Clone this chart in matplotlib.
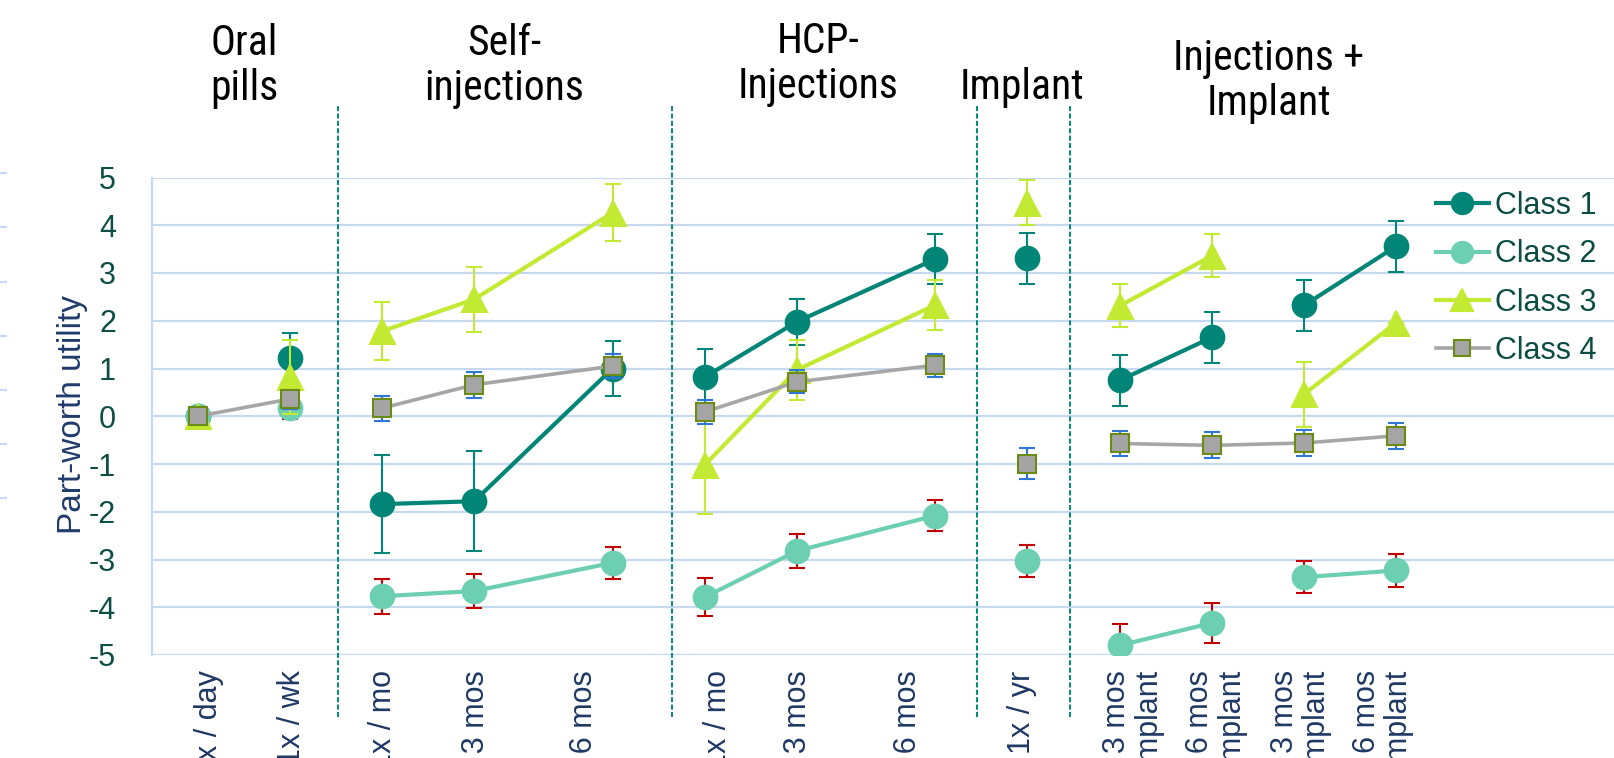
import numpy as np
import matplotlib.pyplot as plt
from matplotlib.lines import Line2D
from matplotlib import font_manager as fm

plt.rcParams['font.family'] = ['Liberation Sans', 'DejaVu Sans']
plt.rcParams['axes.unicode_minus'] = False

# category axis
categories = ['1x / day', '1x / wk',
              '1x / mo', '1x / 3 mos', '1x / 6 mos',
              '1x / mo', '1x / 3 mos', '1x / 6 mos',
              '1x / yr',
              'Self 3 mos\n+ Implant', 'Self 6 mos\n+ Implant',
              'HCP 3 mos\n+ Implant', 'HCP 6 mos\n+ Implant']
cat_pos = [0, 1, 2, 3, 4.5, 5.5, 6.5, 8, 9, 10, 11, 12, 13]
label_pos = [0.12, 1.02, 2.01, 3.02, 4.19, 5.64, 6.51, 7.70, 8.94, 10.15, 11.05, 11.97, 12.86]

groups = ['Oral\npills', 'Self-\ninjections', 'HCP-\nInjections', 'Implant', 'Injections +\nImplant']

class1 = [0, 1.22, -1.84, -1.78, 1.00, 0.82, 1.98, 3.29, 3.31, 0.75, 1.65, 2.32, 3.56]
class1_err = [0, 0.52, 1.02, 1.05, 0.58, 0.58, 0.48, 0.53, 0.53, 0.54, 0.54, 0.54, 0.53]
class2 = [0, 0.17, -3.77, -3.66, -3.07, -3.79, -2.82, -2.08, -3.03, -4.80, -4.33, -3.37, -3.23]
class2_err = [0, 0.23, 0.37, 0.35, 0.34, 0.40, 0.36, 0.33, 0.33, 0.45, 0.42, 0.34, 0.35]
class3 = [0, 0.82, 1.78, 2.45, 4.26, -1.02, 0.97, 2.33, 4.47, 2.31, 3.36, 0.46, 1.96]
class3_err = [0, 0.77, 0.61, 0.68, 0.60, 1.03, 0.63, 0.52, 0.47, 0.45, 0.45, 0.68, 0.0]
class4 = [0, 0.36, 0.17, 0.66, 1.05, 0.09, 0.72, 1.07, -0.99, -0.57, -0.61, -0.56, -0.41]
class4_err = [0, 0.20, 0.26, 0.27, 0.25, 0.25, 0.24, 0.24, 0.33, 0.27, 0.27, 0.27, 0.27]

# which points are joined by a line
runs_123 = [[2, 3, 4], [5, 6, 7], [9, 10], [11, 12]]
runs_4 = [[0, 1], [2, 3, 4], [5, 6, 7], [9, 10, 11, 12]]

series = [
    ('Class 1', class1, class1_err, runs_123, dict(color='#008577', marker='o', ms=17, mfc='#008577', mec='#008577', ecol='#008577', lw=3.0)),
    ('Class 2', class2, class2_err, runs_123, dict(color='#6ccfb1', marker='o', ms=17, mfc='#6ccfb1', mec='#6ccfb1', ecol='#c00000', lw=3.0)),
    ('Class 3', class3, class3_err, runs_123, dict(color='#c2ea33', marker='^', ms=18, mfc='#c2ea33', mec='#c2ea33', ecol='#c2ea33', lw=3.0)),
    ('Class 4', class4, class4_err, runs_4, dict(color='#a6a6a6', marker='s', ms=13.5, mfc='#a5a5a5', mec='#6b8c14', ecol='#2f77d6', lw=2.6)),
]


def has_font(name):
    try:
        fm.findfont(fm.FontProperties(family=name), fallback_to_default=False)
        return True
    except ValueError:
        return False


head_family, head_size = 'Liberation Sans', 27
for cand in ['Liberation Sans Narrow', 'Arial Narrow', 'Roboto Condensed']:
    if has_font(cand):
        head_family, head_size = cand, 30
        break

fig = plt.figure(figsize=(16.14, 7.58), dpi=100)
ax = fig.add_axes([152/1614, 103/758, 1 - 152/1614, 477.5/758])

x = np.array(cat_pos, dtype=float)
handles = []
for i, (name, vals, errs, runs, st) in enumerate(series):
    y = np.array(vals, dtype=float)
    e = np.array(errs, dtype=float)
    for r in runs:
        ax.plot(x[r], y[r], color=st['color'], lw=st['lw'], zorder=3 + i, solid_capstyle='round')
    ax.errorbar(x, y, yerr=e, fmt=st['marker'], ms=st['ms'], mfc=st['mfc'], mec=st['mec'],
                mew=1.5, ecolor=st['ecol'], elinewidth=1.5, capsize=6, capthick=1.5,
                linestyle='none', zorder=3 + i)
    handles.append(Line2D([], [], color=st['color'], lw=st['lw'], marker=st['marker'],
                          ms=st['ms'] * 0.9, mfc=st['mfc'], mec=st['mec'], mew=1.5))

ax.set_xlim(-0.495, 15.363)
ax.set_ylim(-5, 5)
ax.set_yticks(range(-5, 6))
ax.yaxis.grid(True, color='#c6d9f0', lw=1.6)
ax.set_axisbelow(True)
for s in ['top', 'right', 'bottom']:
    ax.spines[s].set_visible(False)
ax.spines['left'].set_color('#c6d9f0')
ax.spines['left'].set_linewidth(1.6)
ax.tick_params(axis='y', length=0, pad=26, labelsize=22, labelcolor='#0d4e45')
ax.tick_params(axis='x', length=0, pad=11)
ax.set_xticks(label_pos)
ax.set_xticklabels(categories, rotation=90, va='top', ha='center', multialignment='right',
                   fontsize=22, color='#1f3864', linespacing=1.1)

# dashed separators between product groups
seps = [1.52, 5.15, 8.45, 9.46]
ax.vlines(seps, -0.13, 1.154, transform=ax.get_xaxis_transform(), clip_on=False,
          colors='#00897b', lw=1.4, linestyles=(0, (2.6, 1.2)))

# group headers
header_x = [244, 504, 818, 1022, 1269]
header_y = [66, 66, 64, 87, 81]
for g, hx, hy in zip(groups, header_x, header_y):
    fig.text(hx/1614, 1 - hy/758, g, ha='center', va='center', fontsize=head_size,
             family=[head_family, 'Liberation Sans'], linespacing=1.1, color='black')

fig.text(73/1614, 1 - 414/758, 'Part-worth utility', rotation=90, ha='center', va='center',
         fontsize=24, color='#1f3b6b')

# remains of the neighbouring chart at the left edge
for yy in [173, 227, 282, 336, 390, 444, 498]:
    fig.add_artist(Line2D([0, 6/1614], [1 - yy/758, 1 - yy/758], color='#c6d9f0', lw=1.6))

leg = ax.legend(handles, [s[0] for s in series], loc='center left',
                bbox_to_anchor=(1436/1614, 1 - 278.5/758), bbox_transform=fig.transFigure,
                frameon=False, fontsize=22, handlelength=1.73, handletextpad=0.2,
                labelspacing=0.6, borderpad=0, borderaxespad=0)
for t in leg.get_texts():
    t.set_color('#0b4d45')

fig.savefig('out.png', dpi=100)
